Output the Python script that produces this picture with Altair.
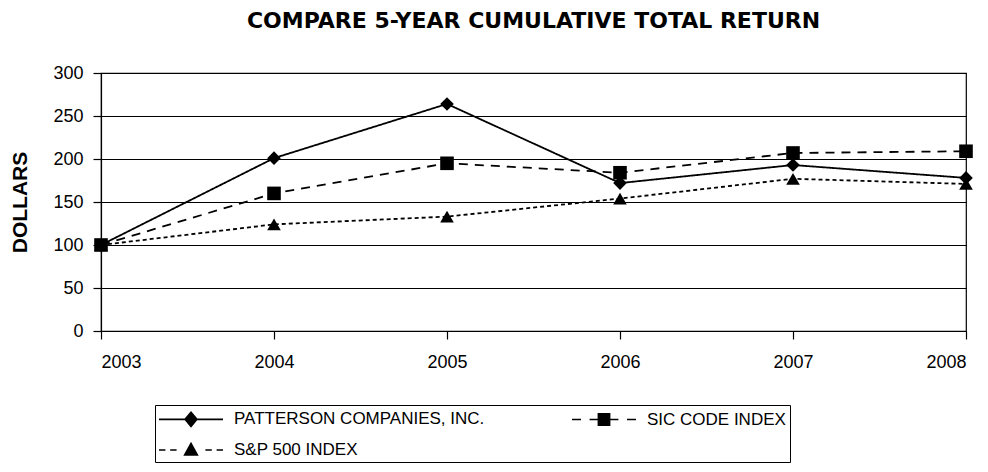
import altair as alt
import pandas as pd

years = [2003, 2004, 2005, 2006, 2007, 2008]
series_names = ["PATTERSON COMPANIES, INC.", "SIC CODE INDEX", "S&P 500 INDEX"]
patterson = [100, 201, 264, 172, 193, 178]
sic = [100, 160, 195, 184, 207, 209]
sp500 = [100, 124, 133, 154, 177, 171]
y_ticks = [0, 50, 100, 150, 200, 250, 300]

markers = ["diamond", "square", "triangle-up"]
dashes = [[1, 0], [9, 7], [4, 3]]
legend_paths = [
    "M-3.2,-0.08H3.2V0.08H-3.2Z M0,-0.83L0.7,0L0,0.83L-0.7,0Z",
    "M-3.2,-0.08H-2.3V0.08H-3.2Z M-1.44,-0.08H1.44V0.08H-1.44Z M-0.64,-0.64H0.64V0.64H-0.64Z M2.3,-0.08H3.2V0.08H2.3Z",
    "M-3.2,-0.08H-2.56V0.08H-3.2Z M-2.08,-0.08H-1.44V0.08H-2.08Z M0,-0.83L0.77,0.58L-0.77,0.58Z M1.44,-0.08H2.08V0.08H1.44Z M2.56,-0.08H3.2V0.08H2.56Z",
]

rows = []
for name, vals, mk in zip(series_names, [patterson, sic, sp500], markers):
    for yr, v in zip(years, vals):
        rows.append({"year": yr, "value": v, "series": name, "marker": mk})
df = pd.DataFrame(rows)

FONT = "Liberation Sans"

x_enc = alt.X(
    "year:Q",
    scale=alt.Scale(domain=[2003, 2008], nice=False, zero=False),
    axis=alt.Axis(values=years, format="d", grid=False, title=None,
                  labelFont=FONT, labelFontSize=18, labelColor="black",
                  labelPadding=14, tickSize=8, tickColor="black",
                  domainColor="black", tickWidth=1.2, domainWidth=1.2),
)
y_enc = alt.Y(
    "value:Q",
    scale=alt.Scale(domain=[0, 300], nice=False),
    axis=alt.Axis(values=y_ticks, grid=True, gridColor="black", gridWidth=1.2,
                  title="DOLLARS", titleFont=FONT, titleFontSize=21,
                  titleFontWeight="bold", titleColor="black", titlePadding=22,
                  labelFont=FONT, labelFontSize=18, labelColor="black",
                  labelPadding=10, tickSize=8, tickColor="black", tickWidth=1.2,
                  domainColor="black", domainWidth=1.2),
)

base = alt.Chart(df)

lines = base.mark_line(color="black", strokeWidth=1.8).encode(
    x=x_enc,
    y=y_enc,
    detail="series:N",
    strokeDash=alt.StrokeDash("series:N",
                              scale=alt.Scale(domain=series_names, range=dashes),
                              legend=None),
)

points = base.mark_point(filled=True, color="black", opacity=1, size=185).encode(
    x=x_enc,
    y=y_enc,
    shape=alt.Shape("marker:N", scale=None, legend=None),
)

legend_layer = base.mark_point(filled=True, color="black", opacity=0).encode(
    x=x_enc,
    y=y_enc,
    shape=alt.Shape(
        "series:N",
        sort=series_names,
        scale=alt.Scale(domain=series_names, range=legend_paths),
        legend=alt.Legend(
            title=None, orient="none", legendX=54, legendY=332,
            values=series_names, direction="horizontal",
            columns=2, columnPadding=87, rowPadding=12, padding=4,
            strokeColor="black", symbolSize=400, symbolOpacity=1,
            symbolOffset=22,
            symbolFillColor="black", symbolStrokeColor="black",
            symbolStrokeWidth=0, labelFont=FONT, labelFontSize=17,
            labelColor="black", labelOffset=33, labelLimit=400,
        ),
    ),
)

chart = (
    alt.layer(lines, legend_layer, points)
    .resolve_scale(shape="independent")
    .properties(
        width=865,
        height=258,
        padding={"left": 93, "top": 65, "right": 14, "bottom": 133},
        autosize=alt.AutoSizeParams(type="none"),
        title=alt.TitleParams(
            "COMPARE 5-YEAR CUMULATIVE TOTAL RETURN",
            font="DejaVu Sans", fontSize=22, fontWeight="bold",
            anchor="middle", frame="group", offset=31, color="black",
        ),
        background="white",
    )
    .configure_view(stroke="black", strokeWidth=1.2)
)

chart.save("out.html", embed_options={"renderer": "svg", "actions": False})
